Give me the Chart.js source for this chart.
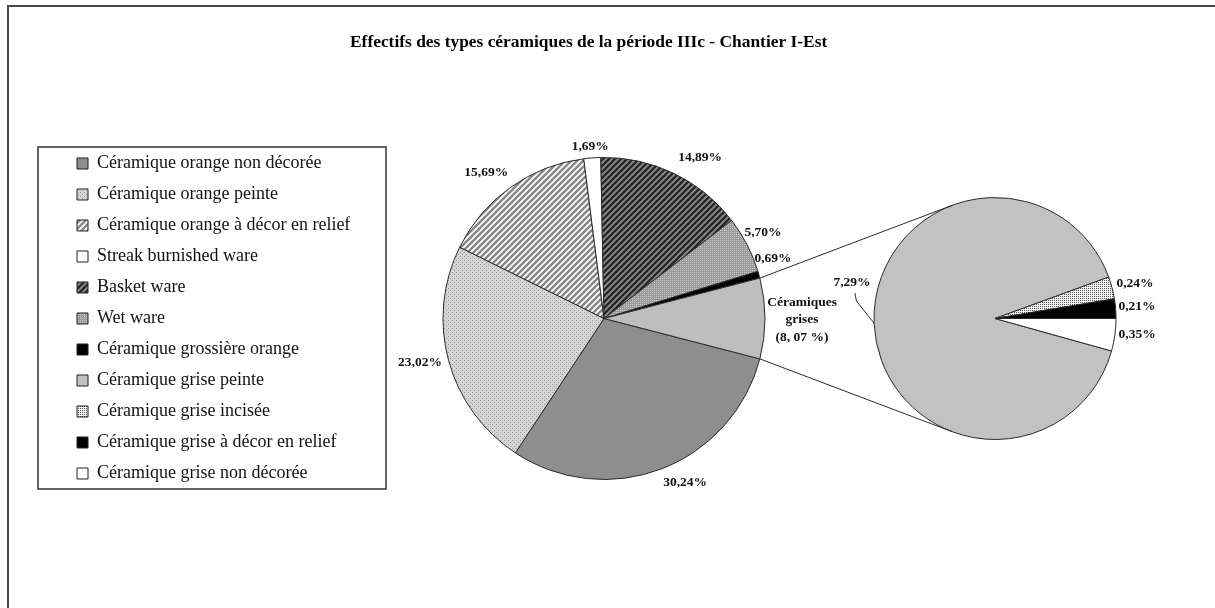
<!DOCTYPE html>
<html>
<head>
<meta charset="utf-8">
<script src="https://cdn.jsdelivr.net/npm/chart.js@4.4.1/dist/chart.umd.min.js"></script>
<style>
html, body { margin: 0; padding: 0; background: #fff; overflow: hidden; }
#wrap { position: relative; width: 1215px; height: 608px; overflow: hidden; background: #fff; }
#frame { position: absolute; left: 7px; top: 5px; width: 1400px; height: 800px;
         border-left: 2px solid #4a4a4a; border-top: 2px solid #4a4a4a; }
canvas { position: absolute; left: 0; top: 0; }
</style>
</head>
<body>
<div id="wrap">
  <div id="frame"></div>
  <canvas id="mainPie" width="1215" height="608"></canvas>
  <canvas id="greyPie" width="1215" height="608"></canvas>
</div>
<script>
// ---------------- data ----------------
const chartTitle = 'Effectifs des types céramiques de la période IIIc - Chantier I-Est';

const mainLabels = [
  'Céramique orange non décorée',
  'Céramique orange peinte',
  'Céramique orange à décor en relief',
  'Streak burnished ware',
  'Basket ware',
  'Wet ware',
  'Céramique grossière orange',
  'Céramiques grises'
];
const mainValues = [30.24, 23.02, 15.69, 1.69, 14.89, 5.70, 0.69, 8.07];
const mainValueTexts = ['30,24%', '23,02%', '15,69%', '1,69%', '14,89%', '5,70%', '0,69%',
                        'Céramiques\ngrises\n(8, 07 %)'];

const greyLabels = [
  'Céramique grise peinte',
  'Céramique grise incisée',
  'Céramique grise à décor en relief',
  'Céramique grise non décorée'
];
const greyValues = [7.29, 0.24, 0.21, 0.35];
const greyValueTexts = ['7,29%', '0,24%', '0,21%', '0,35%'];

// ---------------- styling ----------------
const SERIF = "'Liberation Serif', 'Times New Roman', serif";
// label placement: [angle shift from slice middle (deg), distance in radii, leader line]
const mainLabelPlacement = [[-5.2, 1.139], [1.6, 1.176], [-3.5, 1.163], [-0.4, 1.07],
                            [5.1, 1.167], [-1, 1.121], [-3.9, 1.115], [0.4, 1.23]];
const greyLabelPlacement = [[16.5, 1.22, true], [0.5, 1.193], [-0.3, 1.178], [-1.2, 1.182]];

const refCtx = document.getElementById('mainPie').getContext('2d');
function tile(size, bg, draw) {
  const c = document.createElement('canvas');
  c.width = c.height = size;
  const g = c.getContext('2d');
  g.fillStyle = bg; g.fillRect(0, 0, size, size);
  if (draw) draw(g, size);
  return refCtx.createPattern(c, 'repeat');
}
function stripes(bg, fg, lw) {
  return tile(6, bg, (g, s) => {
    g.strokeStyle = fg; g.lineWidth = lw; g.lineCap = 'square';
    g.beginPath();
    g.moveTo(0, s); g.lineTo(s, 0);
    g.moveTo(-2, 2); g.lineTo(2, -2);
    g.moveTo(s - 2, s + 2); g.lineTo(s + 2, s - 2);
    g.stroke();
  });
}
function dots(size, bg, fg, pts) {
  return tile(size, bg, (g) => { g.fillStyle = fg; pts.forEach(p => g.fillRect(p[0], p[1], 1, 1)); });
}
const mainFills = [
  '#8e8e8e',                                       // orange non décorée
  dots(4, '#d4d4d4', '#9e9e9e', [[0,0],[2,2]]),    // orange peinte
  stripes('#ffffff', '#888888', 2.5),              // orange à décor en relief
  '#ffffff',                                       // streak burnished
  stripes('#8c8c8c', '#262626', 2.3),              // basket ware
  dots(2, '#9a9a9a', '#c6c6c6', [[0,0]]),          // wet ware
  '#000000',                                       // grossière orange
  '#bebebe'                                        // céramiques grises (total)
];
const greyFills = [
  '#c2c2c2',                                                   // grise peinte
  dots(4, '#f2f2f2', '#555555', [[0,0],[2,2],[2,0],[0,2]]),    // grise incisée
  '#000000',                                                   // grise à décor en relief
  '#ffffff'                                                    // grise non décorée
];

const sum = a => a.reduce((s, v) => s + v, 0);

// ---------------- plugins ----------------
function drawValueText(ctx, text, x, y) {
  const lines = text.split('\n');
  lines.forEach((t, k) => ctx.fillText(t, x, y + (k - (lines.length - 1) / 2) * 17.5));
}

const mainDecor = {
  id: 'mainDecor',
  afterDatasetsDraw(chart) {
    const ctx = chart.ctx;
    const arcs = chart.getDatasetMeta(0).data;
    ctx.save();
    ctx.font = 'bold 13.5px ' + SERIF;
    ctx.fillStyle = '#111';
    ctx.textAlign = 'center';
    ctx.textBaseline = 'middle';
    arcs.forEach((arc, i) => {
      const p = arc.getProps(['x', 'y', 'startAngle', 'endAngle', 'outerRadius'], true);
      const [dA, f] = mainLabelPlacement[i];
      const a = (p.startAngle + p.endAngle) / 2 + dA * Math.PI / 180;
      drawValueText(ctx, mainValueTexts[i],
        p.x + Math.cos(a) * p.outerRadius * f,
        p.y + Math.sin(a) * p.outerRadius * f);
    });
    ctx.restore();
  },
  afterDraw(chart) {
    // frame around the legend
    const lg = chart.legend;
    if (!lg) return;
    const lo = chart.options.plugins.legend.labels;
    const pad = lo.padding, itemH = Math.max(lo.font.size, lo.boxHeight);
    const n = lg.legendItems.length;
    const colH = n * (itemH + pad);
    const x0 = lg.left + pad;
    const y0 = (lg.top + pad + lg.bottom - colH) / 2;
    const ctx = chart.ctx;
    ctx.save();
    ctx.strokeStyle = '#333';
    ctx.lineWidth = 1.5;
    const L = x0 - 39, T = y0 - 7.5, R = lg.right + 36, B = y0 + colH - pad + 6.5;
    ctx.strokeRect(L, T, R - L, B - T);
    ctx.restore();
  }
};

const mainChart = new Chart(document.getElementById('mainPie'), {
  type: 'pie',
  data: {
    labels: mainLabels,
    datasets: [{
      data: mainValues,
      backgroundColor: mainFills,
      borderColor: '#2b2b2b',
      borderWidth: 1
    }]
  },
  options: {
    responsive: false,
    animation: false,
    events: [],
    rotation: 90 + (mainValues[mainValues.length - 1] / 2) / sum(mainValues) * 360,
    radius: 161,
    layout: { padding: { left: 64, right: 357, top: 0, bottom: 99.5 } },
    plugins: {
      tooltip: { enabled: false },
      title: {
        display: true,
        text: chartTitle,
        position: 'top',
        align: 'start',
        fullSize: false,
        color: '#000',
        font: { family: SERIF, size: 17.4, weight: 'bold' },
        padding: { top: 31.6, bottom: 76 }
      },
      legend: {
        display: true,
        position: 'left',
        align: 'center',
        fullSize: false,
        maxWidth: 286,
        labels: {
          font: { family: SERIF, size: 18 },
          color: '#111',
          boxWidth: 11,
          boxHeight: 11,
          padding: 13,
          generateLabels: () => {
            const items = [];
            mainLabels.forEach((t, i) => {
              if (i === mainLabels.length - 1) return; // combined grey slice: detailed below
              items.push({ text: t, fillStyle: mainFills[i], strokeStyle: '#222', lineWidth: 1,
                           hidden: false, index: i, fontColor: '#111' });
            });
            greyLabels.forEach((t, i) => {
              items.push({ text: t, fillStyle: greyFills[i], strokeStyle: '#222', lineWidth: 1,
                           hidden: false, index: 100 + i, fontColor: '#111' });
            });
            return items;
          }
        }
      }
    }
  },
  plugins: [mainDecor]
});

// keep the main pie centred in the free area right of the legend
(function () {
  const lg = mainChart.legend;
  const wantRight = lg.right + 7;
  if (Math.abs(wantRight - mainChart.options.layout.padding.right) > 0.5) {
    mainChart.options.layout.padding.right = wantRight;
    mainChart.update('none');
  }
})();

function tangentPoint(P, C, r, upper) {
  const dx = P.x - C.x, dy = P.y - C.y;
  const d = Math.hypot(dx, dy);
  const a = Math.atan2(dy, dx);
  const b = Math.acos(Math.min(1, r / d));
  const c1 = { x: C.x + r * Math.cos(a + b), y: C.y + r * Math.sin(a + b) };
  const c2 = { x: C.x + r * Math.cos(a - b), y: C.y + r * Math.sin(a - b) };
  if (upper) return c1.y < c2.y ? c1 : c2;
  return c1.y > c2.y ? c1 : c2;
}

const greyDecor = {
  id: 'greyDecor',
  afterDatasetsDraw(chart) {
    const ctx = chart.ctx;
    const arcs = chart.getDatasetMeta(0).data;
    ctx.save();
    // connector lines from the grey slice of the main pie
    const mArcs = mainChart.getDatasetMeta(0).data;
    const g = mArcs[mArcs.length - 1].getProps(['x', 'y', 'startAngle', 'endAngle', 'outerRadius'], true);
    const s = arcs[0].getProps(['x', 'y', 'outerRadius'], true);
    const C = { x: s.x, y: s.y };
    const P1 = { x: g.x + g.outerRadius * Math.cos(g.startAngle), y: g.y + g.outerRadius * Math.sin(g.startAngle) };
    const P2 = { x: g.x + g.outerRadius * Math.cos(g.endAngle), y: g.y + g.outerRadius * Math.sin(g.endAngle) };
    const T1 = tangentPoint(P1, C, s.outerRadius, true);
    const T2 = tangentPoint(P2, C, s.outerRadius, false);
    ctx.strokeStyle = '#2b2b2b';
    ctx.lineWidth = 1;
    ctx.beginPath();
    ctx.moveTo(P1.x, P1.y); ctx.lineTo(T1.x, T1.y);
    ctx.moveTo(P2.x, P2.y); ctx.lineTo(T2.x, T2.y);
    ctx.stroke();

    ctx.font = 'bold 13.5px ' + SERIF;
    ctx.fillStyle = '#111';
    ctx.textAlign = 'center';
    ctx.textBaseline = 'middle';
    arcs.forEach((arc, i) => {
      const p = arc.getProps(['x', 'y', 'startAngle', 'endAngle', 'outerRadius'], true);
      const [dA, f, leader] = greyLabelPlacement[i];
      const mid = (p.startAngle + p.endAngle) / 2;
      const a = mid + dA * Math.PI / 180;
      const lx = p.x + Math.cos(a) * p.outerRadius * f;
      const ly = p.y + Math.sin(a) * p.outerRadius * f;
      drawValueText(ctx, greyValueTexts[i], lx, ly);
      if (leader) {
        ctx.beginPath();
        ctx.moveTo(lx + 3, ly + 11);
        ctx.lineTo(lx + 4.5, ly + 19);
        ctx.lineTo(p.x + Math.cos(mid) * p.outerRadius, p.y + Math.sin(mid) * p.outerRadius);
        ctx.stroke();
      }
    });
    ctx.restore();
  }
};

const greyChart = new Chart(document.getElementById('greyPie'), {
  type: 'pie',
  data: {
    labels: greyLabels,
    datasets: [{
      data: greyValues,
      backgroundColor: greyFills,
      borderColor: '#2b2b2b',
      borderWidth: 1
    }]
  },
  options: {
    responsive: false,
    animation: false,
    events: [],
    rotation: 90 + greyValues[greyValues.length - 1] / sum(greyValues) * 360,
    radius: 121,
    layout: { padding: { left: 870, right: 95, top: 188, bottom: 159 } },
    plugins: {
      tooltip: { enabled: false },
      title: { display: false },
      legend: { display: false }
    }
  },
  plugins: [greyDecor]
});
</script>
</body>
</html>
